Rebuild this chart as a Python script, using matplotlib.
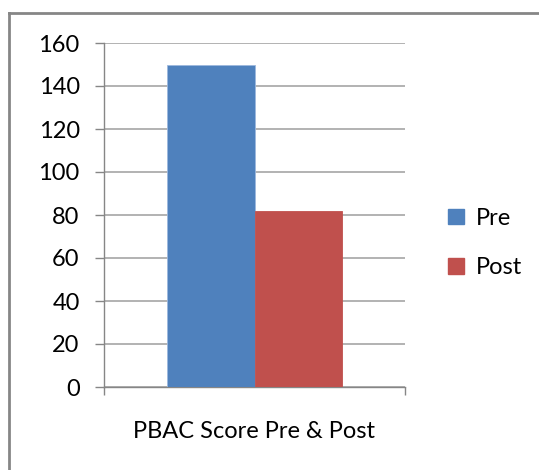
import matplotlib
matplotlib.use("Agg")
import matplotlib.pyplot as plt
from matplotlib.lines import Line2D
from matplotlib.patches import Patch

category = "PBAC Score Pre & Post"
series = ["Pre", "Post"]
values = [150, 82]
colors = ["#4F81BD", "#C0504D"]
yticks = [0, 20, 40, 60, 80, 100, 120, 140, 160]

plt.rcParams['font.family'] = ['Lato', 'DejaVu Sans']
fig = plt.figure(figsize=(5.39, 4.70), dpi=100)
W, H = 539, 470
ax = fig.add_axes([104 / W, 1 - 387 / H, (405 - 104) / W, (387 - 43) / H])

width = 0.29
offsets = [-width / 2, width / 2]
for s, v, c, o in zip(series, values, colors, offsets):
    ax.bar(0 + o, v, width=width, color=c, edgecolor="#9DB9DE" if s == "Pre" else c,
           linewidth=0.6, zorder=3, label=s)

ax.set_xlim(-0.5, 0.5)
ax.set_ylim(0, 160)
ax.set_yticks(yticks)
ax.set_yticklabels([str(t) for t in yticks], fontsize=17)
ax.grid(axis="y", color="#A6A6A6", linewidth=1.2, zorder=0)
ax.tick_params(axis="y", length=6.5, width=1, color="#868686", pad=11)
ax.set_xticks([-0.5, 0.5])
ax.set_xticklabels(["", ""])
ax.tick_params(axis="x", length=5.5, width=1, color="#868686", direction="out")
for sp in ["top", "right"]:
    ax.spines[sp].set_visible(False)
for sp in ["left", "bottom"]:
    ax.spines[sp].set_color("#868686")
    ax.spines[sp].set_linewidth(1)
fig.text(254 / W, 1 - 432 / H, category, ha="center", va="center", fontsize=17)

handles = [Patch(facecolor=c, edgecolor=c) for c in colors]
fig.legend(handles, series, loc="center left", bbox_to_anchor=(427 / W, 1 - 243 / H),
           frameon=False, fontsize=17, handlelength=0.65, handleheight=0.65,
           labelspacing=1.2, handletextpad=0.5)

# outer frame (top and left edges visible)
fig.add_artist(Line2D([9 / W, 1.0], [1 - 13 / H, 1 - 13 / H], color="#868686", linewidth=2))
fig.add_artist(Line2D([9 / W, 9 / W], [0, 1 - 13 / H], color="#868686", linewidth=2))

fig.savefig("out.png", dpi=100)
